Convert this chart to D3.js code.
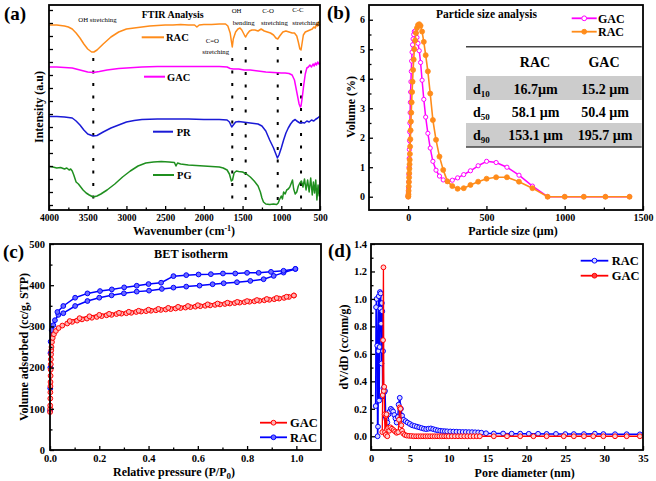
<!DOCTYPE html>
<html><head><meta charset="utf-8">
<script src="https://cdn.jsdelivr.net/npm/d3@7"></script>
<style>html,body{margin:0;padding:0;background:#fff}svg{display:block}</style>
</head><body><svg id="c" width="656" height="481"></svg>
<script>
// ---------------- DATA ----------------
// (a) FTIR: [wavenumber cm-1, intensity a.u.]
const ftirRAC = [[4000,184],[3900,184],[3800,183],[3750,182],[3700,180],[3650,176],[3600,171],[3550,165],[3500,160],[3450,157],[3420,157],[3380,159],[3300,165],[3200,172],[3100,177],[3000,180],[2900,181],[2800,182],[2700,183],[2600,183.5],[2500,184],[2400,184],[2300,184.5],[2200,184],[2120,184],[2090,182],[2060,184],[2000,184.5],[1900,184.5],[1800,185],[1720,185],[1690,183],[1660,176],[1645,168],[1633,162],[1620,170],[1590,177],[1560,180],[1533,181],[1510,179],[1490,176],[1470,173],[1460,172],[1440,175],[1410,178],[1380,179],[1340,179],[1300,178],[1260,180],[1220,178],[1180,177],[1140,176],[1100,174],[1070,171],[1046,170],[1020,173],[980,177],[940,178],[900,177],[860,176],[830,176],[800,173],[780,167],[760,160],[745,159],[735,164],[715,174],[690,177],[660,178],[630,179],[600,180],[580,182],[560,181],[545,185],[530,183],[520,187],[510,184],[500,185]];
const ftirGAC = [[4000,142],[3900,142],[3800,141.5],[3700,141],[3600,139],[3500,137],[3430,136.5],[3350,137.5],[3250,139],[3100,140.5],[3000,141],[2800,142],[2600,142.5],[2400,142.5],[2200,142.5],[2000,142.5],[1800,142.5],[1700,142],[1660,140.5],[1620,140],[1550,140],[1480,139],[1400,139],[1300,138],[1200,137],[1100,136.5],[1000,136],[950,136],[900,135.5],[860,134],[830,129],[810,121],[790,113],[770,105],[755,102],[745,103],[730,111],[710,124],[690,135],[670,141],[650,142],[630,144],[610,142],[590,145],[575,143],[560,146],[545,144],[530,147],[515,145],[500,146]];
const ftirPR = [[4000,92.5],[3900,92.5],[3800,92],[3700,91],[3650,88],[3600,84],[3550,79],[3500,75],[3430,73],[3380,73.5],[3300,77],[3200,81],[3100,84],[3000,87],[2900,88.5],[2800,89.5],[2600,90],[2400,90],[2200,90],[2000,89.5],[1800,89.5],[1700,89],[1670,87],[1640,82],[1620,84],[1590,87],[1550,87.5],[1500,87],[1450,86.5],[1400,86],[1350,85.5],[1300,85],[1250,83],[1200,78],[1150,69],[1100,61],[1070,55],[1050,51],[1030,54],[1000,61],[970,69],[940,76],[910,81],[880,85],[850,88],[820,89.5],[800,88],[760,86],[730,86.5],[700,86],[670,88],[640,87],[610,89],[580,88],[560,89.5],[530,91],[500,93]];
const ftirPG = [[4000,42.5],[3950,42],[3900,41],[3850,41.5],[3800,40],[3770,41],[3740,39],[3720,40],[3700,38],[3680,34],[3650,27],[3620,25],[3600,23],[3560,19],[3520,16],[3480,14],[3430,12],[3380,13],[3330,15],[3250,19],[3150,25],[3050,32],[2950,38],[2850,43],[2750,46],[2650,47],[2550,47.5],[2450,47],[2380,46.5],[2360,43],[2340,46],[2300,45],[2200,44],[2100,43.5],[2000,43],[1900,42.5],[1800,42],[1750,41],[1700,39],[1670,35],[1645,28],[1630,29],[1610,36],[1580,38],[1550,37.5],[1500,37],[1450,35],[1400,32],[1350,28],[1300,23],[1270,17],[1250,11],[1230,7],[1200,5],[1150,4.5],[1100,5],[1060,4.5],[1040,6],[1020,10],[1000,13],[985,10],[970,17],[950,15],[930,19],[910,20],[890,22],[870,26],[855,29],[840,20],[820,15],[800,17],[780,23],[760,26],[740,28],[720,22],[700,30],[680,19],[660,29],[640,17],[620,31],[600,14],[585,27],[570,16],[555,29],[540,9],[525,24],[510,13],[500,19]];
const ftirPeaks = [3428, 1633, 1460, 1046, 745];
const ftirPeakTop = [151, 151, 162, 162, 151];
const ftirXTicks = [4000,3500,3000,2500,2000,1500,1000,500];
const ftirXMinor = [3750,3250,2750,2250,1750,1250,750];
const ftirYTicks = [4,17,30,43,56,69,82,95,108,121,134,147,160,173,186,199];

// (b) particle size distribution
const psdSize = [0.5,1,2,3,4,5,6,7,8,9,10,11.2,12.6,14.1,15.8,17.8,20,22.4,25.1,28.2,31.6,35.5,39.8,44.7,50.1,56.2,63.1,70.8,79.4,89.1,100,112,126,141,158,178,200,224,251,282,316,355,398,447,501,562,631,708,794,891,1000,1122,1260,1414];
const psdGAC = [0,0.05,0.15,0.3,0.5,0.75,1.0,1.3,1.6,1.9,2.2,2.5,2.85,3.2,3.55,3.9,4.25,4.6,4.9,5.15,5.35,5.5,5.6,5.62,5.55,5.4,5.2,4.95,4.55,3.95,3.3,2.7,2.15,1.65,1.2,0.9,0.7,0.57,0.52,0.56,0.64,0.75,0.88,1.05,1.2,1.16,1.0,0.73,0.36,0,0,0,0,0];
const psdRAC = [0,0.02,0.08,0.2,0.35,0.5,0.65,0.8,0.95,1.1,1.25,1.45,1.7,1.95,2.25,2.55,2.85,3.2,3.55,3.9,4.3,4.65,5.0,5.3,5.55,5.72,5.82,5.85,5.8,5.6,5.25,4.8,4.25,3.5,2.6,1.93,1.36,0.91,0.52,0.36,0.27,0.29,0.4,0.51,0.61,0.66,0.66,0.51,0.29,0,0,0,0,0];
const psdXTicks = [0,500,1000,1500];
const psdXMinor = [250,750,1250];
const psdYTicks = [0,1,2,3,4,5,6];
const psdYMinor = [0.5,1.5,2.5,3.5,4.5,5.5];
const tableCols = ["RAC","GAC"];
const tableRows = ["10","50","90"];
const tableRAC = ["16.7µm","58.1 µm","153.1 µm"];
const tableGAC = ["15.2 µm","50.4 µm","195.7 µm"];

// (c) BET isotherm: [P/P0, volume cc/g]
const betGACads = [[0.0003,92],[0.0006,100],[0.0009,108],[0.0012,125],[0.0015,140],[0.0018,155],[0.0021,165],[0.0024,180],[0.0028,195],[0.0032,208],[0.0037,220],[0.0043,232],[0.005,242],[0.006,250],[0.008,262],[0.011,272],[0.016,281],[0.024,289],[0.035,296],[0.05,302],[0.07,307],[0.09,311],[0.11,314],[0.13,317],[0.15,319],[0.17,321],[0.19,323],[0.21,325],[0.23,327],[0.25,328],[0.27,330],[0.29,331],[0.31,332],[0.33,333],[0.35,335],[0.37,336],[0.39,337],[0.41,338],[0.43,339],[0.45,340],[0.47,341],[0.49,342],[0.51,343.5],[0.53,344.6],[0.55,345.7],[0.57,346.8],[0.59,347.9],[0.61,349],[0.63,350],[0.65,351],[0.67,352.2],[0.69,353.3],[0.71,354.4],[0.73,355.5],[0.75,356.6],[0.77,357.7],[0.79,358.8],[0.81,359.9],[0.83,361],[0.85,362.2],[0.87,363.4],[0.89,364.6],[0.91,366],[0.93,367.5],[0.95,369.2],[0.97,371.5],[0.99,375]];
const betGACdes = [[0.99,375],[0.96,372],[0.92,369],[0.88,366.5],[0.84,364],[0.80,361.5],[0.76,359.5],[0.72,357.5],[0.68,355.5],[0.64,353.5],[0.60,351.5],[0.56,349.5],[0.52,347.5],[0.48,345],[0.44,342.5],[0.40,340.5],[0.36,338],[0.32,335.5],[0.28,333],[0.24,330.5],[0.20,328],[0.16,324.5],[0.12,320],[0.08,313]];
const betRACads = [[0.0005,95],[0.001,150],[0.0015,200],[0.002,235],[0.0027,263],[0.0068,291],[0.0136,303],[0.02,315],[0.034,328],[0.054,332],[0.102,349.5],[0.152,361.6],[0.2,369.7],[0.25,375.4],[0.3,380.3],[0.352,384.4],[0.402,386.8],[0.454,390.9],[0.501,394.1],[0.553,396.6],[0.607,399],[0.66,402.3],[0.705,404.7],[0.759,407.2],[0.813,410.4],[0.867,414.5],[0.908,422.6],[0.948,430.6],[0.996,439.5]];
const betRACdes = [[0.996,439.5],[0.948,435],[0.897,432.4],[0.847,430],[0.80,430],[0.752,428.4],[0.702,428.4],[0.653,426.8],[0.603,426],[0.553,424.4],[0.501,422],[0.451,406],[0.40,402.8],[0.352,398.7],[0.301,394.7],[0.251,389.8],[0.203,385.8],[0.152,380.1],[0.102,369.6],[0.054,349.5],[0.03,335]];
const betXTicks = [0,0.2,0.4,0.6,0.8,1.0];
const betXMinor = [0.1,0.3,0.5,0.7,0.9];
const betYTicks = [0,100,200,300,400,500];
const betYMinor = [50,150,250,350,450];

// (d) pore size distribution: [pore diameter nm, dV/dD]
const pdRAC = [[0.6,0.22],[0.65,0.94],[0.72,1.0],[0.8,0.66],[0.85,0.0],[0.9,0.07],[0.95,0.62],[1.0,1.02],[1.05,0.26],[1.1,0.65],[1.15,1.05],[1.2,0.93],[1.25,1.04],[1.3,0.82],[1.35,0.53],[1.4,0.97],[1.45,0.91],[1.5,0.29],[1.55,0.62],[1.6,0.35],[1.7,0.32],[1.8,0.33],[1.9,0.14],[2.0,0.12],[2.1,0.1],[2.25,0.16],[2.4,0.18],[2.55,0.2],[2.7,0.19],[2.85,0.18],[3.0,0.155],[3.15,0.13],[3.3,0.1],[3.45,0.14],[3.55,0.23],[3.7,0.28],[3.85,0.2],[4.0,0.15],[4.2,0.12],[4.45,0.11],[4.7,0.1],[5.0,0.09],[5.3,0.08],[5.6,0.075],[5.9,0.07],[6.2,0.065],[6.5,0.06],[6.8,0.055],[7.1,0.052],[7.4,0.055],[7.7,0.057],[8.0,0.052],[8.3,0.047],[8.6,0.043],[8.9,0.04],[9.2,0.038],[9.5,0.037],[9.8,0.036],[10.2,0.035],[10.6,0.034],[11.0,0.033],[11.4,0.032],[11.8,0.031],[12.2,0.031],[12.6,0.03],[13.0,0.03],[13.4,0.029],[13.8,0.028],[14.2,0.026],[14.8,0.022],[15.8,0.02],[17.0,0.02],[18.1,0.019],[19.2,0.019],[20.3,0.018],[21.5,0.018],[22.6,0.017],[23.8,0.017],[25.0,0.016],[26.1,0.016],[27.4,0.016],[28.8,0.019],[29.9,0.016],[31.4,0.015],[32.9,0.015],[34.6,0.014]];
const pdGAC = [[1.45,0.03],[1.5,0.3],[1.55,0.7],[1.6,1.23],[1.65,0.33],[1.7,0.36],[1.75,0.16],[1.8,0.03],[1.9,0.01],[1.95,0.15],[2.0,0.16],[2.05,0.05],[2.1,0.0],[2.2,0.06],[2.35,0.04],[2.5,0.065],[2.7,0.055],[2.9,0.045],[3.1,0.035],[3.3,0.025],[3.5,0.03],[3.6,0.12],[3.7,0.21],[3.8,0.2],[3.9,0.08],[4.0,0.04],[4.15,0.02],[4.35,0.01],[4.6,0.005],[4.9,0.003],[5.2,0.002],[5.5,0],[5.8,0],[6.1,0],[6.4,0],[6.7,0],[7.0,0],[7.3,0],[7.6,0],[7.9,0],[8.2,0],[8.5,0],[8.8,0],[9.1,0],[9.4,0],[9.7,0],[10.0,0],[10.4,0],[10.8,0],[11.2,0],[11.6,0],[12.0,0],[12.4,0],[12.8,0],[13.2,0],[13.6,0],[14.0,0],[15.8,0],[17.5,0],[19.2,0],[20.9,0],[22.6,0],[24.8,0],[26.1,0],[27.4,0],[28.6,0],[29.9,0],[31.4,0],[32.9,0],[34.6,0]];
const pdXTicks = [0,5,10,15,20,25,30,35];
const pdXMinor = [2.5,7.5,12.5,17.5,22.5,27.5,32.5];
const pdYTicks = [0,0.2,0.4,0.6,0.8,1.0,1.2,1.4];
const pdYMinor = [0.1,0.3,0.5,0.7,0.9,1.1,1.3];

// ---------------- DRAW ----------------
const FONT = "'Liberation Serif','Times New Roman',serif";
const svg = d3.select("#c");
svg.append("rect").attr("width",656).attr("height",481).attr("fill","#fff");

function txt(x,y,s,o={}){
  const t = svg.append("text").attr("x",x).attr("y",y).text(s)
    .attr("font-family",FONT).attr("font-size",o.fs||12)
    .attr("font-weight",o.fw||"bold").attr("fill",o.fill||"#000")
    .attr("text-anchor",o.anchor||"start");
  return t;
}
function ytitle(x,y,s,fs){
  return svg.append("text").attr("transform",`translate(${x},${y}) rotate(-90)`)
    .attr("text-anchor","middle").attr("font-family",FONT).attr("font-size",fs)
    .attr("font-weight","bold").text(s);
}
function drawAxes(p){
  const gs = [];
  gs.push(svg.append("g").attr("transform",`translate(0,${p.B})`)
    .call(d3.axisBottom(p.x).tickValues(p.xMajor).tickSize(-4).tickPadding(p.xPad).tickFormat(p.xFmt)));
  gs.push(svg.append("g").attr("transform",`translate(0,${p.B})`)
    .call(d3.axisBottom(p.x).tickValues(p.xMinor).tickSize(-2.5).tickFormat(()=>"")));
  gs.push(svg.append("g").attr("transform",`translate(${p.L},0)`)
    .call(d3.axisLeft(p.y).tickValues(p.yMajor).tickSize(-4).tickPadding(p.yPad).tickFormat(p.yFmt)));
  if (p.yMinor) gs.push(svg.append("g").attr("transform",`translate(${p.L},0)`)
    .call(d3.axisLeft(p.y).tickValues(p.yMinor).tickSize(-2.5).tickFormat(()=>"")));
  gs.forEach(g=>{
    g.select(".domain").remove();
    g.selectAll("line").attr("stroke","#000").attr("stroke-width",1.3);
    g.selectAll("text").attr("font-family",FONT).attr("font-weight","bold")
      .attr("font-size",p.fs).attr("fill","#000");
  });
}
function frame(L,T,R,B){
  svg.append("rect").attr("x",L).attr("y",T).attr("width",R-L).attr("height",B-T)
    .attr("fill","none").attr("stroke","#000").attr("stroke-width",1.8);
}
function path(data,x,y,color,w){
  svg.append("path").datum(data)
    .attr("d",d3.line().x(d=>x(d[0])).y(d=>y(d[1])))
    .attr("fill","none").attr("stroke",color).attr("stroke-width",w).attr("stroke-linejoin","round");
}
function dots(data,x,y,color,fill,r,sw){
  svg.append("g").selectAll("circle").data(data).join("circle")
    .attr("cx",d=>x(d[0])).attr("cy",d=>y(d[1])).attr("r",r)
    .attr("fill",fill).attr("stroke",color).attr("stroke-width",sw);
}

// ---- Panel (a) ----
{
  const L=49,R=320,T=5,B=210;
  const x = d3.scaleLinear().domain([4000,500]).range([L,R]);
  const y = d3.scaleLinear().domain([0,204]).range([209,5]);
  ftirPeaks.forEach((w,i)=>{
    svg.append("line").attr("x1",x(w)).attr("x2",x(w)).attr("y1",y(ftirPeakTop[i])).attr("y2",y(2))
      .attr("stroke","#000").attr("stroke-width",2).attr("stroke-dasharray","3,9.5");
  });
  path(ftirRAC,x,y,"#ff8c1a",1.5);
  path(ftirGAC,x,y,"#ff00ff",1.5);
  path(ftirPR,x,y,"#1a1ad6",1.5);
  path(ftirPG,x,y,"#1f8f1f",1.5);
  drawAxes({x,y,L,T,R,B,xMajor:ftirXTicks,xMinor:ftirXMinor,yMajor:ftirYTicks,xFmt:d3.format("d"),yFmt:()=>"",fs:9.5,xPad:4,yPad:4});
  frame(L,T,R,B);
  const leg=[["RAC","#ff8c1a",141.7,164,37.3,166],["GAC","#ff00ff",144,165,76.7,167],["PR","#1a1ad6",153,173,131.7,176.7],["PG","#1f8f1f",153,174,175,177]];
  leg.forEach(l=>{
    svg.append("line").attr("x1",l[2]).attr("x2",l[3]).attr("y1",l[4]).attr("y2",l[4]).attr("stroke",l[1]).attr("stroke-width",2);
    txt(l[5],l[4]+3.8,l[0],{fs:10.5});
  });
  txt(141.7,18,"FTIR Analysis",{fs:10});
  const an=[["OH stretching",78.3,22.3],["C=O",205.7,42.7],["stretching",202.3,54.3],["OH",231.7,12.7],["bending",232.7,25.3],["C-O",262.3,13.3],["stretching",261,25.3],["C-C",292.3,11.7],["stretching",292.3,25.3]];
  an.forEach(a=>txt(a[1],a[2],a[0],{fs:6.8,fw:"normal"}));
  const xt = txt(184,234.5,"Wavenumber (cm",{fs:12,anchor:"middle"});
  xt.append("tspan").attr("dy",-4).attr("font-size",8).text("-1");
  xt.append("tspan").attr("dy",4).text(")");
  ytitle(43,107,"Intensity (a.u)",12);
  txt(4,20,"(a)",{fs:19});
}

// ---- Panel (b) ----
{
  const L=369,R=643,T=5,B=210;
  const x = d3.scaleLinear().domain([-250,1500]).range([L,R]);
  const y = d3.scaleLinear().domain([-0.45,6.5]).range([B,T]);
  const g = psdSize.map((s,i)=>[s,psdGAC[i]]);
  const r = psdSize.map((s,i)=>[s,psdRAC[i]]);
  svg.append("rect").attr("x",466).attr("y",76).attr("width",175.7).attr("height",24).attr("fill","#cccccc");
  svg.append("rect").attr("x",466).attr("y",123).attr("width",175.7).attr("height",24).attr("fill","#cccccc");
  [46.7,147].forEach(yy=>svg.append("line").attr("x1",466).attr("x2",641.7).attr("y1",yy).attr("y2",yy).attr("stroke","#444").attr("stroke-width",1.6));
  txt(535,67,tableCols[0],{fs:14,anchor:"middle"});
  txt(604,67,tableCols[1],{fs:14,anchor:"middle"});
  const rowY=[94,117,140];
  tableRows.forEach((rw,i)=>{
    const t = txt(473,rowY[i],"d",{fs:14});
    t.append("tspan").attr("dy",3).attr("font-size",9).text(rw);
    txt(535.5,rowY[i],tableRAC[i],{fs:14,anchor:"middle"});
    txt(605,rowY[i],tableGAC[i],{fs:14,anchor:"middle"});
  });
  path(g,x,y,"#ff00ff",1.5);
  dots(g,x,y,"#ff00ff","#fff",2.1,1);
  path(r,x,y,"#ff8c1a",1.6);
  dots(r,x,y,"#ff8c1a","#ff8c1a",2.5,0.8);
  drawAxes({x,y,L,T,R,B,xMajor:psdXTicks,xMinor:psdXMinor,yMajor:psdYTicks,yMinor:psdYMinor,xFmt:d3.format("d"),yFmt:d3.format("d"),fs:10,xPad:4,yPad:4});
  frame(L,T,R,B);
  txt(436,18,"Particle size analysis",{fs:11.5});
  [["GAC","#ff00ff","#fff",18.3],["RAC","#ff8c1a","#ff8c1a",31.7]].forEach(l=>{
    svg.append("line").attr("x1",571.7).attr("x2",596.7).attr("y1",l[3]).attr("y2",l[3]).attr("stroke",l[1]).attr("stroke-width",1.8);
    svg.append("circle").attr("cx",584.2).attr("cy",l[3]).attr("r",2.4).attr("fill",l[2]).attr("stroke",l[1]).attr("stroke-width",1);
    txt(598,l[3]+4.3,l[0],{fs:12});
  });
  txt(513,234.5,"Particle size (µm)",{fs:12,anchor:"middle"});
  ytitle(355,107,"Volume (%)",12);
  txt(327,19,"(b)",{fs:19});
}

// ---- Panel (c) ----
{
  const L=50,R=321,T=244,B=450;
  const x = d3.scaleLinear().domain([0,1.1]).range([L,R]);
  const y = d3.scaleLinear().domain([0,500]).range([B,T]);
  path(betRACads,x,y,"#0000ff",1.5);
  path(betRACdes,x,y,"#0000ff",1.5);
  dots(betRACads,x,y,"#0000ff","#6b6bff",2.4,1);
  dots(betRACdes,x,y,"#0000ff","#6b6bff",2.4,1);
  path(betGACads,x,y,"#ff0000",1.5);
  path(betGACdes,x,y,"#ff0000",1.5);
  dots(betGACads,x,y,"#ff0000","#ffb3b3",2.4,1);
  dots(betGACdes,x,y,"#ff0000","#ffb3b3",2.4,1);
  drawAxes({x,y,L,T,R,B,xMajor:betXTicks,xMinor:betXMinor,yMajor:betYTicks,yMinor:betYMinor,xFmt:d3.format(".1f"),yFmt:d3.format("d"),fs:10.5,xPad:5,yPad:5});
  frame(L,T,R,B);
  txt(191,258,"BET isotherm",{fs:12.3,anchor:"middle"});
  [["GAC","#ff0000","#ffb3b3",422.7],["RAC","#0000ff","#6b6bff",437.3]].forEach(l=>{
    svg.append("line").attr("x1",260).attr("x2",287).attr("y1",l[3]).attr("y2",l[3]).attr("stroke",l[1]).attr("stroke-width",1.8);
    svg.append("circle").attr("cx",273.5).attr("cy",l[3]).attr("r",2.4).attr("fill",l[2]).attr("stroke",l[1]).attr("stroke-width",1);
    txt(290,l[3]+4.4,l[0],{fs:12.5});
  });
  const xt = txt(174,475.5,"Relative pressure (P/P",{fs:12,anchor:"middle"});
  xt.append("tspan").attr("dy",3).attr("font-size",9).text("0");
  xt.append("tspan").attr("dy",-3).text(")");
  ytitle(28,347,"Volume adsorbed (cc/g, STP)",12);
  txt(3,258,"(c)",{fs:19});
}

// ---- Panel (d) ----
{
  const L=371,R=643,T=244,B=450;
  const x = d3.scaleLinear().domain([0,35]).range([L,R]);
  const y = d3.scaleLinear().domain([-0.1,1.4]).range([B,T]);
  path(pdRAC,x,y,"#0000ff",1.5);
  dots(pdRAC,x,y,"#0000ff","#d8d8ff",2.4,1);
  path(pdGAC,x,y,"#ff0000",1.3);
  dots(pdGAC,x,y,"#ff0000","#ffd0d0",2.4,1);
  drawAxes({x,y,L,T,R,B,xMajor:pdXTicks,xMinor:pdXMinor,yMajor:pdYTicks,yMinor:pdYMinor,xFmt:d3.format("d"),yFmt:d3.format(".1f"),fs:10.5,xPad:5,yPad:4});
  frame(L,T,R,B);
  [["RAC","#0000ff","#d8d8ff",260.7],["GAC","#ff0000","#ff4040",275.7]].forEach(l=>{
    svg.append("line").attr("x1",580.7).attr("x2",608.3).attr("y1",l[3]).attr("y2",l[3]).attr("stroke",l[1]).attr("stroke-width",1.8);
    svg.append("circle").attr("cx",594.5).attr("cy",l[3]).attr("r",2.4).attr("fill",l[2]).attr("stroke",l[1]).attr("stroke-width",1);
    txt(611.7,l[3]+4.4,l[0],{fs:12.5});
  });
  txt(524.7,476.5,"Pore diameter (nm)",{fs:12,anchor:"middle"});
  ytitle(348,347,"dV/dD (cc/nm/g)",12);
  txt(328,257,"(d)",{fs:19});
}
</script></body></html>
